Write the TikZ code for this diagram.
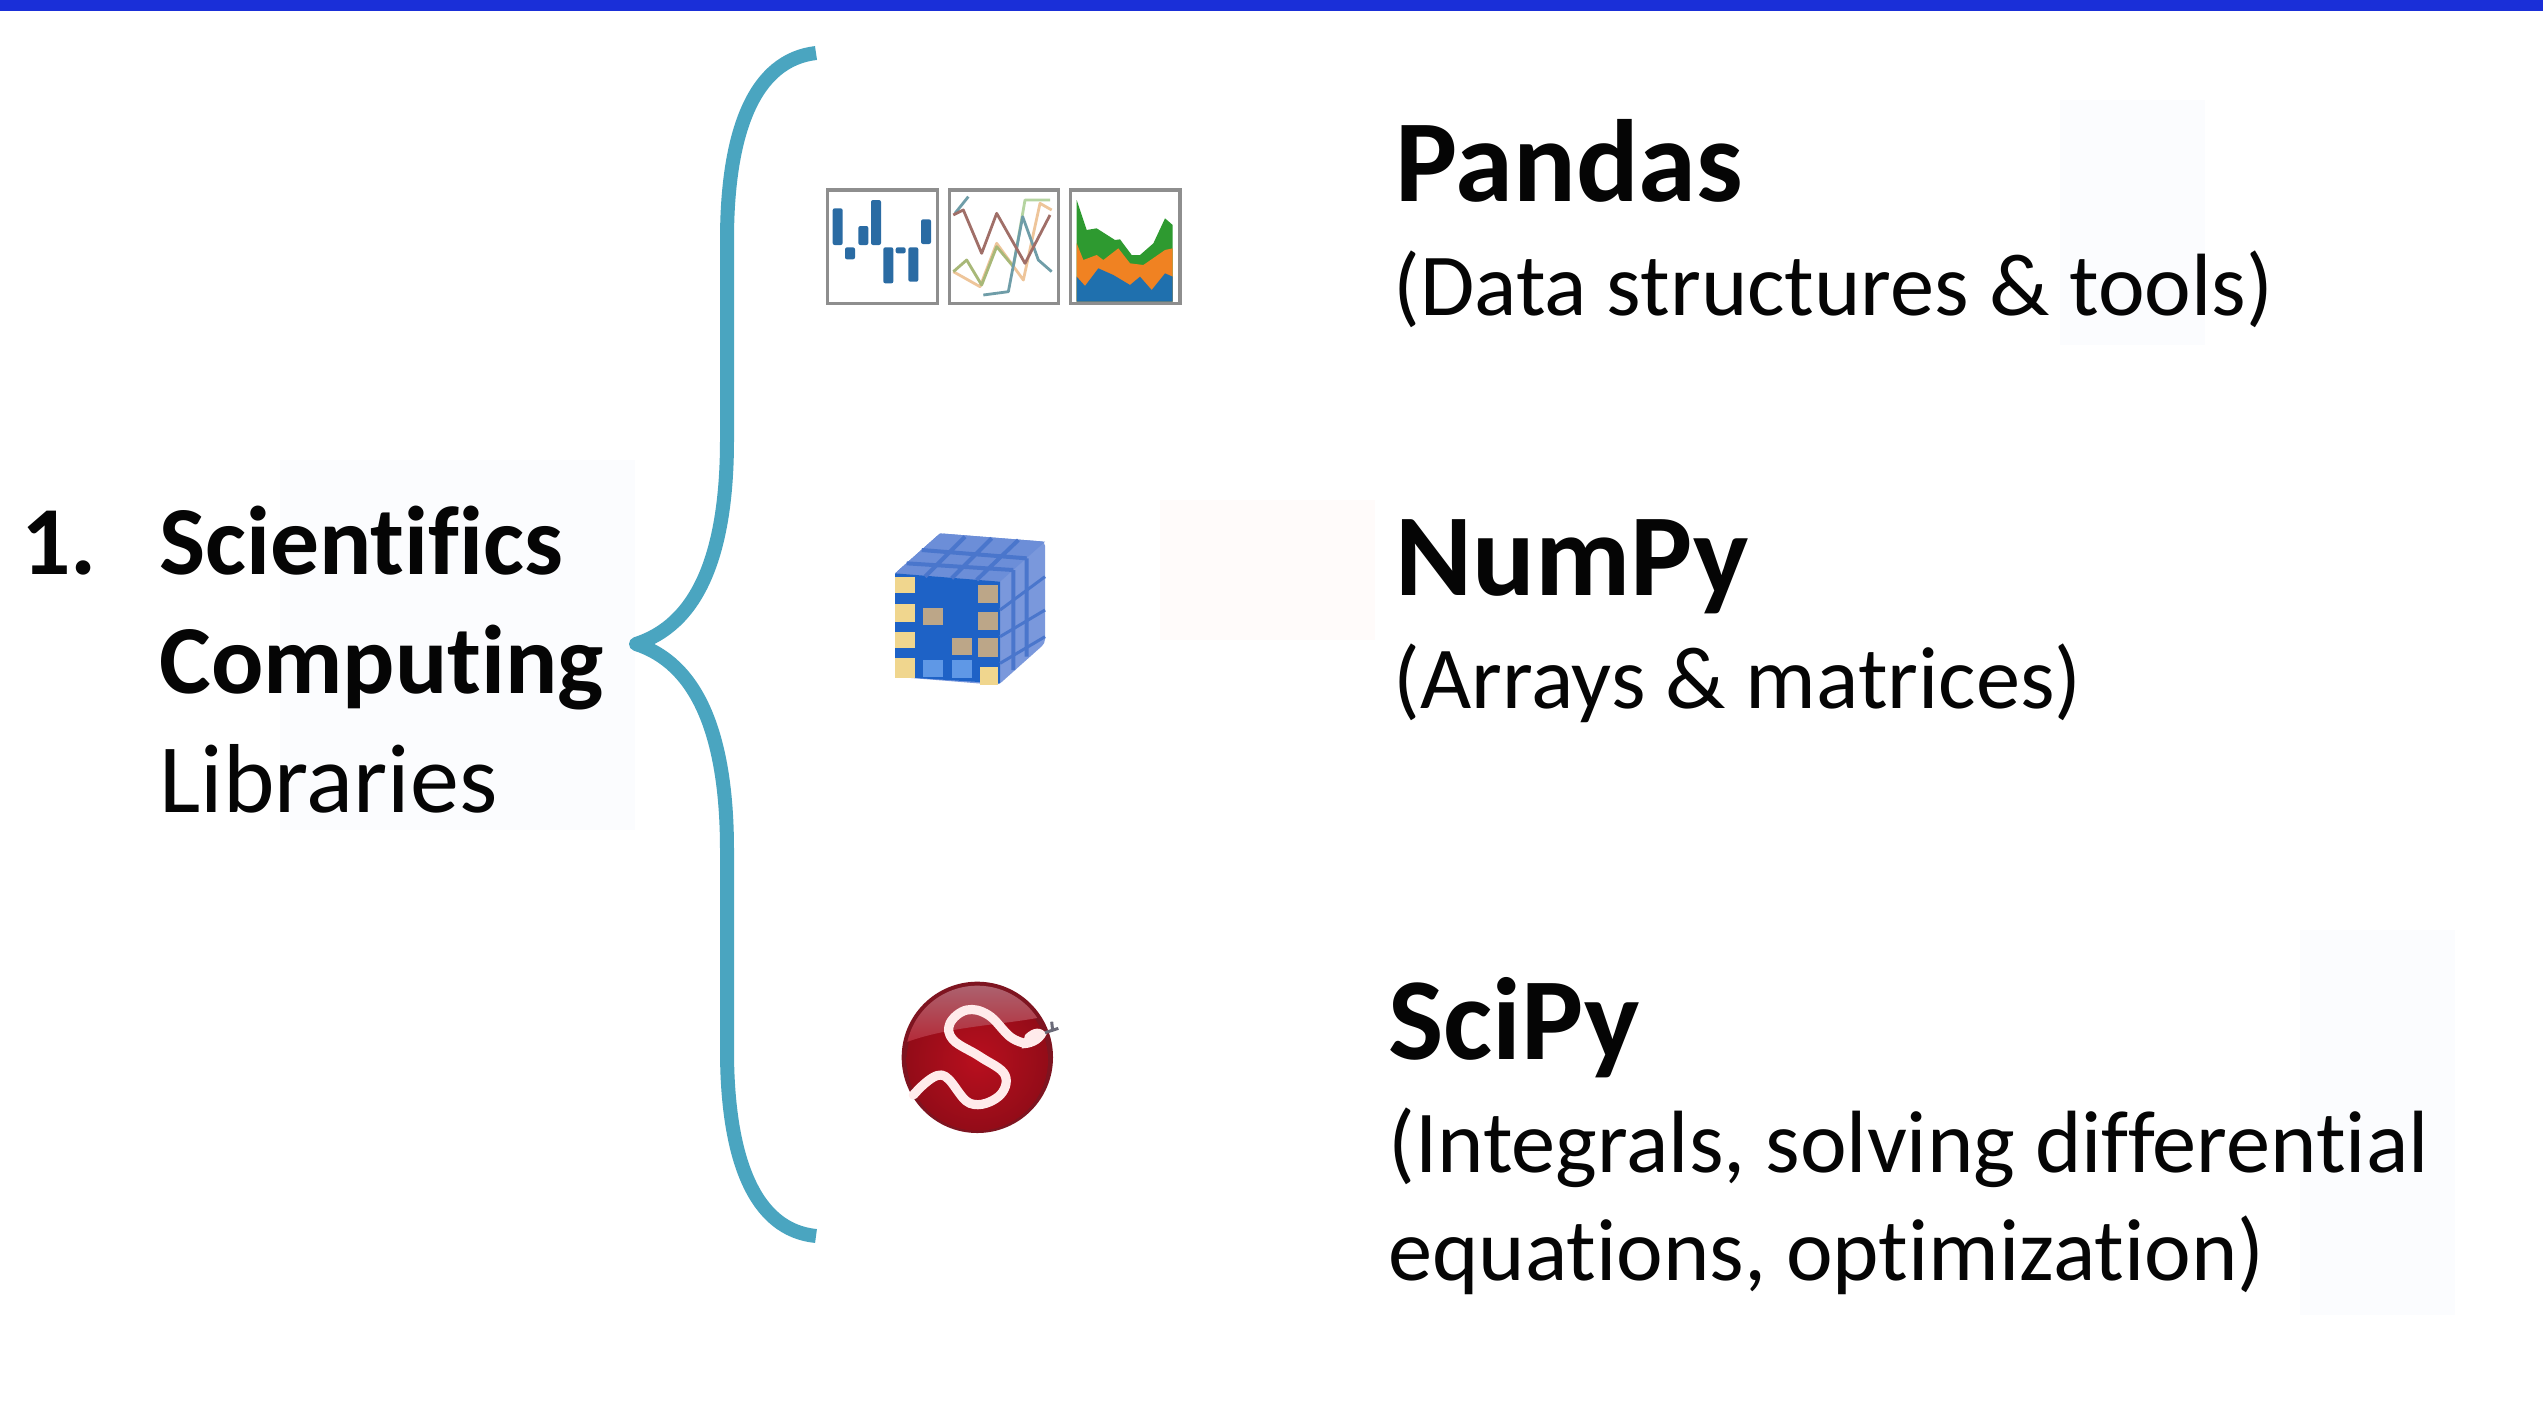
\documentclass[tikz,border=0pt]{standalone}
\usepackage{fontspec}
\setmainfont{Carlito}[Ligatures=NoCommon]
\definecolor{barblue}{HTML}{1A2FD8}
\definecolor{bracec}{HTML}{4AA5C0}
\definecolor{txt}{HTML}{050505}
\definecolor{boxgray}{HTML}{8E8E8E}
\definecolor{wmblue}{HTML}{FBFCFE}
\definecolor{wmred}{HTML}{FFFBFA}
\definecolor{barcol}{HTML}{2A6BA3}
\definecolor{lnbrown}{HTML}{A06F68}
\definecolor{lnteal}{HTML}{6F9DA8}
\definecolor{lnolive}{HTML}{A8B878}
\definecolor{lngreen}{HTML}{B5D4A0}
\definecolor{lnorange}{HTML}{EEC59A}
\definecolor{stgreen}{HTML}{2E9A30}
\definecolor{storange}{HTML}{F08222}
\definecolor{stblue}{HTML}{1F70AE}
\definecolor{cubeback}{HTML}{7A98DC}
\definecolor{cubefront}{HTML}{1E62C6}
\definecolor{cubetop}{HTML}{6C8ED8}
\definecolor{cubegrid}{HTML}{4A76CC}
\definecolor{cellyellow}{HTML}{F0D68E}
\definecolor{celltan}{HTML}{BCA688}
\definecolor{celllight}{HTML}{5F98E6}
\definecolor{scired}{HTML}{B80F1E}
\definecolor{scidark}{HTML}{7E1420}
\definecolor{scitop}{HTML}{AC6470}
\definecolor{tonguec}{HTML}{6A6A78}
\tikzset{
  titletext/.style={anchor=base west,inner sep=0pt,font=\fontsize{58.5}{60}\selectfont\bfseries,text=txt},
  subtext/.style={anchor=base west,inner sep=0pt,font=\fontsize{44.2}{48}\selectfont,text=txt},
  lefttext/.style={anchor=base west,inner sep=0pt,font=\fontsize{49}{52}\selectfont,text=txt},
  leftbold/.style={lefttext,font=\fontsize{48.8}{52}\selectfont\bfseries},
  iconbox/.style={draw=boxgray,line width=1.6pt,fill=white},
  ln/.style={line width=1.4pt,line join=round},
  zoomA/.style={shift={(800,160)},x=0.16667pt,y=-0.16667pt},
  zoomB/.style={shift={(860,510)},x=0.16667pt,y=-0.16667pt},
  zoomC/.style={shift={(870,960)},x=0.16667pt,y=-0.16667pt},
}
\begin{document}
\begin{tikzpicture}[x=0.5pt,y=-0.5pt]
\useasboundingbox (0,0) rectangle (2543,1409);
\fill[white] (0,0) rectangle (2543,1409);
% faint watermarks
\fill[wmblue] (2060,100) rectangle (2205,345);
\fill[wmblue] (280,460) rectangle (635,830);
\fill[wmred] (1160,500) rectangle (1375,640);
\fill[wmblue] (2300,930) rectangle (2455,1315);
\fill[barblue] (0,0) rectangle (2543,11);
% left label
\node[leftbold] (num) at (21,574) {1.};
\node[leftbold] (sci) at (159,574) {Scientifics};
\node[leftbold] (comp) at (159,693) {Computing};
\node[lefttext] (lib) at (159,812) {Libraries};
% brace
\coordinate (btop) at (816,53);
\coordinate (btip) at (636,644);
\coordinate (bbot) at (816,1236);
\draw[bracec,line width=7pt,line join=round] (btop) .. controls (755,60) and (727,130) .. (727,240)
  -- (727,440) .. controls (727,560) and (695,625) .. (btip)
  .. controls (695,663) and (727,730) .. (727,850)
  -- (727,1050) .. controls (727,1160) and (755,1230) .. (bbot);
% right labels
\node[titletext] (pandas) at (1395,201) {Pandas};
\node[subtext] (pandassub) at (1393,315) {(Data structures \& tools)};
\node[titletext] (numpy) at (1395,595) {NumPy};
\node[subtext] (numpysub) at (1393,708) {(Arrays \& matrices)};
\node[titletext] (scipy) at (1388,1059) {SciPy};
\node[subtext] (scipysub) at (1388,1172) {(Integrals, solving differential};
\node[subtext] (scipysubb) at (1388,1280) {equations, optimization)};
% Pandas icons
\begin{scope}[zoomA]
\draw[iconbox] (83,90) rectangle (413,430);
\draw[iconbox] (448,90) rectangle (775,430);
\draw[iconbox] (812,90) rectangle (1140,430);
\foreach \cx/\ya/\yb in {113/145/255,150/262/298,190/198/255,228/120/255,265/262/370,302/262/280,340/262/365,378/178/252}
  \fill[barcol,rounded corners=1pt] (\cx-15,\ya) rectangle (\cx+15,\yb);
\draw[ln,draw=lngreen] (640,320)--(675,120)--(750,120);
\draw[ln,draw=lnorange] (460,335)--(540,380)--(590,250)--(670,360)--(720,130)--(755,150);
\draw[ln,draw=lnolive] (460,335)--(500,300)--(545,375)--(590,260)--(640,320);
\draw[ln,draw=lnteal] (465,160)--(505,110);
\draw[ln,draw=lnteal] (550,405)--(625,395)--(668,170)--(715,300)--(755,335);
\draw[ln,draw=lnbrown] (460,165)--(490,150)--(545,280)--(590,160)--(675,310)--(750,165);
\fill[stgreen] (830,120)--(860,210)--(890,205)--(945,240)--(960,238)--(995,285)--(1020,285)--(1060,250)--(1095,175)--(1118,195)--(1118,425)--(830,425)--cycle;
\fill[storange] (830,250)--(850,300)--(890,285)--(910,300)--(955,265)--(990,310)--(1030,315)--(1095,270)--(1118,265)--(1118,425)--(830,425)--cycle;
\fill[stblue] (830,350)--(855,378)--(895,325)--(940,345)--(990,375)--(1020,350)--(1055,390)--(1095,340)--(1118,350)--(1118,425)--(830,425)--cycle;
\end{scope}
% NumPy cube
\begin{scope}[zoomB]
\fill[cubeback,rounded corners=2pt] (105,190)--(240,70)--(555,95)--(555,400)--(415,525)--(105,500)--cycle;
\fill[cubetop] (105,190)--(240,70)--(555,95)--(420,215)--cycle;
\fill[cubefront] (105,190)--(420,215)--(420,520)--(105,500)--cycle;
\draw[cubegrid,line width=2pt] (185,120)--(500,145) (140,160)--(460,180) (315,80)--(195,200) (395,85)--(275,205) (475,90)--(350,210)
   (460,180)--(460,480) (500,145)--(500,440);
\draw[cubegrid,line width=1.5pt] (420,300)--(555,200) (420,380)--(555,300) (420,460)--(555,380);
\foreach \xa/\ya/\xb/\yb/\c in {105/200/165/250/cellyellow,105/283/165/335/cellyellow,105/365/165/415/cellyellow,105/445/165/505/cellyellow,
 190/295/250/345/celltan,355/225/415/280/celltan,355/305/415/360/celltan,275/385/335/435/celltan,355/385/415/440/celltan,360/470/415/525/cellyellow,
 190/450/250/500/celllight,275/450/335/505/celllight}
  \fill[\c] (\xa,\ya) rectangle (\xb,\yb);
\end{scope}
% SciPy logo
\begin{scope}[zoomC]
\fill[scidark] (322,292) circle (227);
\shade[inner color=scired,outer color=scired!80!black] (322,300) circle (212);
\begin{scope}
\clip (322,292) circle (215);
\shade[top color=scitop,bottom color=scitop!30!scired] (100,70) -- (545,70) -- (545,165) .. controls (420,195) and (240,195) .. (100,250) -- cycle;
\end{scope}
\draw[white!92!red,line width=4.6pt,line cap=round,line join=round] plot[smooth,tension=0.65] coordinates {(130,405) (215,345) (300,430) (385,410) (405,345) (330,290) (250,240) (240,190) (290,150) (355,165) (420,230) (465,250)};
\fill[white!92!red] (465,225) .. controls (490,200) and (515,200) .. (530,222) .. controls (515,255) and (480,265) .. (455,265) -- cycle;
\draw[tonguec,line width=1.5pt] (525,218) -- (565,205) (545,185) -- (548,212);
\end{scope}
\end{tikzpicture}
\end{document}
